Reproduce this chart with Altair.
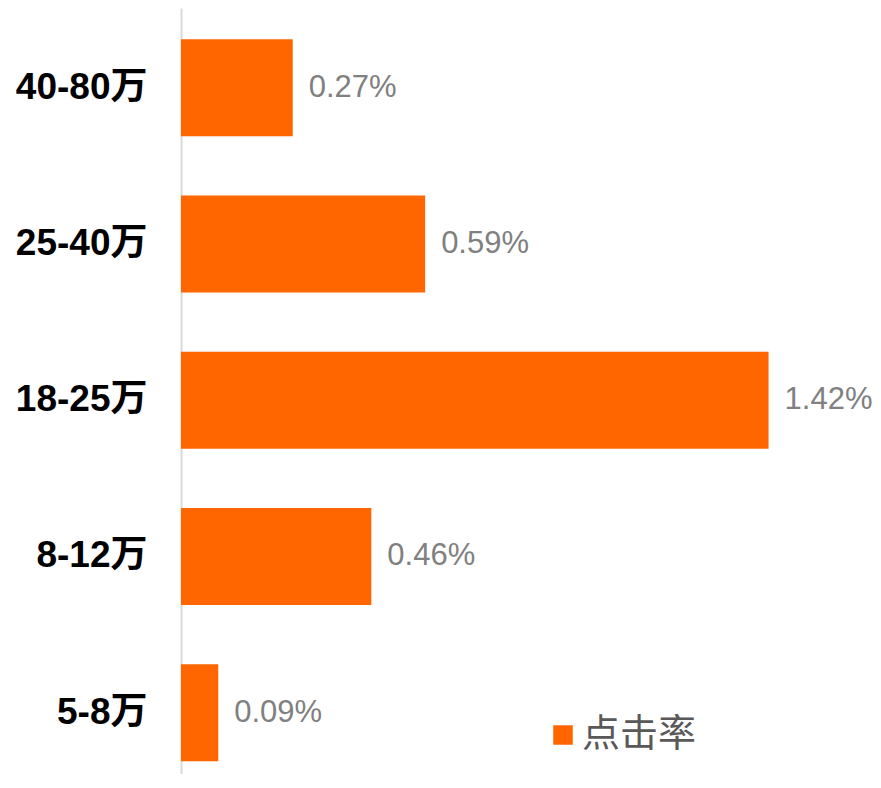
import altair as alt
import pandas as pd

categories = ["40-80万", "25-40万", "18-25万", "8-12万", "5-8万"]
values = [0.27, 0.59, 1.42, 0.46, 0.09]
series_name = "点击率"

df = pd.DataFrame({
    "category": categories,
    "value": values,
    "label": [f"{v:.2f}%" for v in values],
    "series": [series_name] * len(categories),
})

FONT = "'Liberation Sans', Arial, 'Noto Sans CJK SC', sans-serif"
ORANGE = "#FF6600"

y_enc = alt.Y(
    "category:N",
    sort=categories,
    title=None,
    scale=alt.Scale(paddingInner=0.379, paddingOuter=0.1408, align=0.71),
    axis=alt.Axis(
        domain=True, domainColor="#D9D9D9", domainWidth=2,
        ticks=False, labelFont=FONT, labelFontSize=37, labelFontWeight="bold",
        labelColor="#000000", labelPadding=34,
    ),
)
x_enc = alt.X("value:Q", title=None, scale=alt.Scale(domain=[0, 1.67]), axis=None)

bars = alt.Chart(df).mark_bar().encode(
    y=y_enc,
    x=x_enc,
    color=alt.Color(
        "series:N",
        scale=alt.Scale(range=[ORANGE]),
        legend=alt.Legend(
            title=None, orient="none", legendX=363, legendY=708,
            symbolType="square", symbolSize=380, symbolStrokeWidth=0,
            labelFont=FONT, labelFontSize=38, labelColor="#595959",
            labelOffset=0, padding=0,
        ),
    ),
)

text = alt.Chart(df).mark_text(
    align="left", baseline="middle", dx=16, font=FONT, fontSize=31, color="#808080"
).encode(
    y=alt.Y("category:N", sort=categories),
    x=x_enc,
    text="label:N",
)

chart = (
    alt.layer(bars, text)
    .properties(
        width=691,
        height=766,
        padding={"left": 173, "top": 0, "right": 1, "bottom": 0},
        autosize=alt.AutoSizeParams(type="none"),
    )
    .configure_view(stroke=None)
)

chart.save("out.html", embed_options={"renderer": "svg", "actions": False})
